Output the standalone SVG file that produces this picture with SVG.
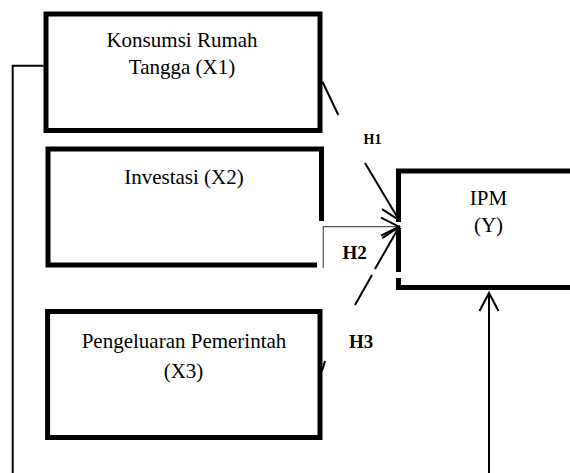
<svg xmlns="http://www.w3.org/2000/svg" width="570" height="473" viewBox="0 0 570 473">
<style>
.box{fill:none;stroke:#000;stroke-width:5;stroke-linejoin:miter}
.t{font-family:"Liberation Serif","Times New Roman",serif;font-size:21px;fill:#000;text-anchor:middle}
.h{font-family:"Liberation Serif","Times New Roman",serif;font-weight:bold;fill:#000}
.c{fill:none;stroke:#000;stroke-width:2}
.thin{fill:none;stroke:#555;stroke-width:1.2}
</style>
<defs>
<marker id="ah" markerUnits="userSpaceOnUse" markerWidth="24" markerHeight="24" refX="19" refY="11" orient="auto" overflow="visible">
<path d="M1,2 L19,11 L1,20" fill="none" stroke="#000" stroke-width="2"/>
</marker>
</defs>
<rect width="570" height="473" fill="#fff"/>
<g id="x1">
<rect class="box" x="46" y="14" width="274" height="116.5"/>
<text class="t" x="182" y="47">Konsumsi Rumah</text>
<text class="t" x="182" y="73.5">Tangga (X1)</text>
</g>
<g id="x2">
<path class="box" d="M321.5 221 V149 H48 V265 H317"/>
<text class="t" x="184" y="183.5">Investasi (X2)</text>
</g>
<g id="x3">
<rect class="box" x="47.6" y="311.5" width="272.4" height="126"/>
<text class="t" x="184" y="347.5">Pengeluaran Pemerintah</text>
<text class="t" x="183.5" y="377.5">(X3)</text>
</g>
<g id="y">
<path class="box" d="M580 171 H398.5 V222 M398.5 228 V272 M398.5 278 V287.5 H580" stroke-width="4.5"/>
<text class="t" x="488.5" y="205">IPM</text>
<text class="t" x="488.5" y="232">(Y)</text>
</g>
<g id="connectors">
<path class="c" d="M322.5 81.7 L338.3 115"/>
<path class="c" d="M365 163 L399 220" marker-end="url(#ah)"/>
<path class="thin" d="M323.3 268 V226.7 H399" marker-end="url(#ah)"/>
<path class="c" d="M322 371 L325 361"/>
<path class="c" d="M355 305 L372 275"/>
<path class="c" d="M375 269 L399 227" marker-end="url(#ah)"/>
<path class="c" d="M43.5 65.7 H12.7 V473" stroke-width="1.5"/>
<path class="c" d="M489 473 V293"/>
<path class="c" d="M479.5 311 L489 293 L498.5 311"/>
</g>
<g id="labels">
<text class="h" x="363.5" y="143.5" font-size="14">H1</text>
<text class="h" x="342.5" y="258.5" font-size="19">H2</text>
<text class="h" x="349" y="347.5" font-size="19">H3</text>
</g>
</svg>
